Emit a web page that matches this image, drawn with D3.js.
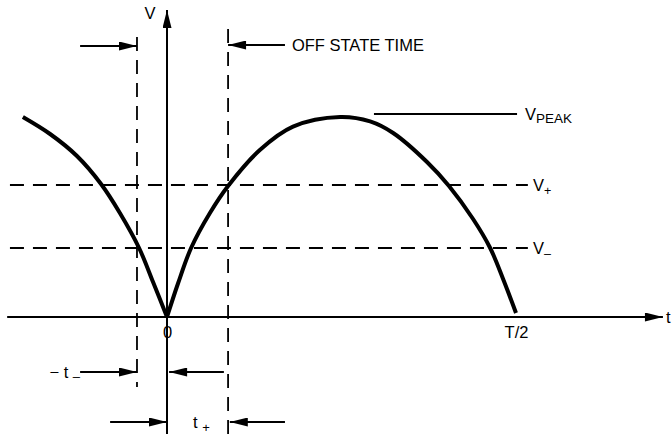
<!DOCTYPE html>
<html lang="en">
<head>
    <meta charset="UTF-8">
    <title>Off state time</title>
    <script src="https://d3js.org/d3.v7.min.js"></script>
    <style>
        body {
            margin: 0;
            padding: 0;
            background: #fff;
        }
        svg {
            display: block;
            font-family: "Liberation Sans", Arial, sans-serif;
        }
        .axis-line, .note {
            stroke: #000;
            stroke-width: 2px;
        }
        .dash {
            stroke: #000;
            stroke-width: 1.8px;
            stroke-dasharray: 14 9;
        }
        .wave {
            fill: none;
            stroke: #000;
            stroke-width: 4px;
        }
        .lbl {
            font-size: 16.5px;
            fill: #000;
        }
    </style>
</head>
<body>
    <svg width="672" height="434"></svg>

    <script>
        // t is in units of T/2, v is in units of V peak
        const leftWave = [
            {t: -0.413, v: 1.0}, {t: -0.335, v: 0.915}, {t: -0.258, v: 0.805},
            {t: -0.189, v: 0.665}, {t: -0.135, v: 0.52}, {t: -0.080, v: 0.345},
            {t: -0.040, v: 0.175}, {t: 0, v: 0}
        ];
        const rightWave = [
            {t: 0, v: 0}, {t: 0.032, v: 0.17}, {t: 0.069, v: 0.345},
            {t: 0.123, v: 0.52}, {t: 0.175, v: 0.655}, {t: 0.266, v: 0.835},
            {t: 0.361, v: 0.952}, {t: 0.496, v: 1.0}, {t: 0.582, v: 0.978},
            {t: 0.648, v: 0.92}, {t: 0.745, v: 0.775}, {t: 0.808, v: 0.655},
            {t: 0.877, v: 0.49}, {t: 0.926, v: 0.345}, {t: 0.963, v: 0.19},
            {t: 1.0, v: 0.02}
        ];

        const vLevels = [
            {v: 0.66, sub: "+"},
            {v: 0.345, sub: "\u2013"}
        ];
        const tMarks = [-0.086, 0.175];        // -t_ and t+
        const tickValues = [0, 1];
        const tickLabels = ["0", "T/2"];
        const vPeak = 1.015;

        const svg = d3.select("svg");

        const x = d3.scaleLinear().domain([0, 1]).range([167, 516]);
        const y = d3.scaleLinear().domain([0, 1]).range([317, 117]);

        svg.append("defs").append("marker")
            .attr("id", "arrow")
            .attr("viewBox", "0 0 20 10")
            .attr("refX", 20)
            .attr("refY", 5)
            .attr("markerWidth", 20)
            .attr("markerHeight", 9)
            .attr("markerUnits", "userSpaceOnUse")
            .attr("orient", "auto")
            .append("path")
            .attr("d", "M0,0 L20,5 L0,10 Z")
            .attr("fill", "#000");

        function line(t1, v1, t2, v2, cls, arrow) {
            const l = svg.append("line")
                .attr("class", cls)
                .attr("x1", x(t1)).attr("y1", y(v1))
                .attr("x2", x(t2)).attr("y2", y(v2));
            if (arrow) l.attr("marker-end", "url(#arrow)");
            return l;
        }

        // dashed levels
        vLevels.forEach(d => line(-0.45, d.v, 1.034, d.v, "dash"));
        line(tMarks[0], 1.40, tMarks[0], -0.35, "dash");
        line(tMarks[1], 1.44, tMarks[1], -0.6, "dash");

        // axes
        line(-0.458, 0, 1.421, 0, "axis-line", true);
        line(0, -0.6, 0, 1.535, "axis-line", true);

        svg.append("g")
            .attr("transform", `translate(0,${y(0)})`)
            .call(d3.axisBottom(x).tickValues(tickValues)
                .tickFormat((d, i) => tickLabels[i]).tickSize(0).tickPadding(9))
            .call(g => g.select(".domain").remove())
            .selectAll("text")
            .attr("class", "lbl")
            .attr("font-family", null)
            .attr("font-size", null);

        svg.append("text").attr("class", "lbl")
            .attr("x", x(-0.049)).attr("y", y(1.49))
            .attr("text-anchor", "middle").text("V");
        svg.append("text").attr("class", "lbl")
            .attr("x", x(1.43)).attr("y", y(0) + 6).text("t");

        // waveform
        const wave = d3.line().x(d => x(d.t)).y(d => y(d.v)).curve(d3.curveCatmullRom.alpha(0.5));
        svg.append("path").datum(leftWave).attr("class", "wave").attr("d", wave);
        svg.append("path").datum(rightWave).attr("class", "wave").attr("d", wave);

        // level labels
        vLevels.forEach(d => {
            const t = svg.append("text").attr("class", "lbl")
                .attr("x", x(1.049)).attr("y", y(d.v) + 6);
            t.append("tspan").text("V");
            t.append("tspan").attr("font-size", 12.5).attr("dy", 4).text(d.sub);
        });

        // V peak
        line(0.593, vPeak, 1.003, vPeak, "note");
        const pk = svg.append("text").attr("class", "lbl")
            .attr("x", x(1.026)).attr("y", y(vPeak) + 6);
        pk.append("tspan").text("V");
        pk.append("tspan").attr("font-size", 13.5).attr("dy", 3).text("PEAK");

        // off state time
        line(-0.249, 1.355, tMarks[0], 1.355, "note", true);
        line(0.338, 1.36, tMarks[1], 1.36, "note", true);
        svg.append("text").attr("class", "lbl")
            .attr("x", x(0.358)).attr("y", y(1.36) + 6)
            .text("OFF STATE TIME");

        // -t_ row
        line(-0.249, -0.275, tMarks[0], -0.275, "note", true);
        line(0.163, -0.275, 0.006, -0.275, "note", true);
        const tm = svg.append("text").attr("class", "lbl")
            .attr("x", x(-0.249)).attr("y", y(-0.275) + 6)
            .attr("text-anchor", "end");
        tm.append("tspan").text("\u2212 t ");
        tm.append("tspan").attr("font-size", 13).attr("dy", 3).text("\u2013");

        // t+ row
        line(-0.163, -0.525, 0, -0.525, "note", true);
        line(0.338, -0.525, 0.18, -0.525, "note", true);
        const tp = svg.append("text").attr("class", "lbl")
            .attr("x", x(0.0745)).attr("y", y(-0.525) + 6);
        tp.append("tspan").text("t ");
        tp.append("tspan").attr("font-size", 13).attr("dy", 4).text("+");
    </script>
</body>
</html>
